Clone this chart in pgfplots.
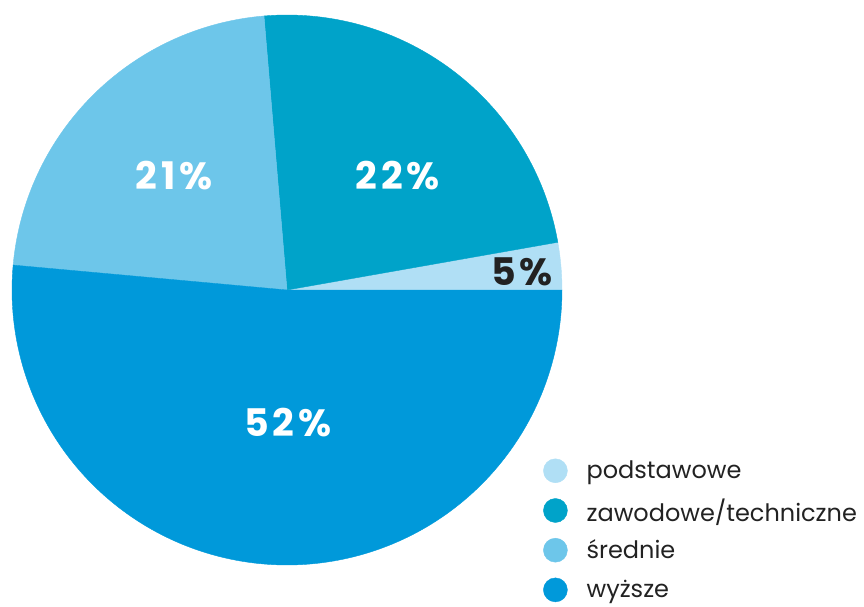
\documentclass[border=0pt]{standalone}
\usepackage{pgfplots}
\pgfplotsset{compat=1.18}
\usepackage{fontspec}
\setmainfont{Poppins}
\newfontfamily\pctfont[LetterSpace=10]{Poppins}
\definecolor{cPod}{HTML}{B0DFF5}
\definecolor{cZaw}{HTML}{00A3C9}
\definecolor{cSre}{HTML}{6DC6EA}
\definecolor{cWyz}{HTML}{0099DA}
\definecolor{cTxt}{HTML}{222222}
\begin{document}
\begin{tikzpicture}
\path[use as bounding box] (0pt,0pt) rectangle (864pt,606pt);
\begin{axis}[
  at={(287pt,316pt)}, anchor=origin,
  x=275pt, y=275pt,
  xmin=-1, xmax=1, ymin=-1, ymax=1,
  hide axis, clip=false,
  legend style={at={(0.96,0.1975)}, anchor=north west, draw=none, fill=none,
    font=\fontsize{24}{26}\selectfont\color{cTxt}, row sep=15.3pt,
    nodes={inner sep=0pt, anchor=west}, column sep=19pt},
  legend cell align=left,
]
% slices: angles in degrees (start:end)
\addplot[forget plot, draw=cPod, line width=0.4pt, fill=cPod, domain=0:10, samples=20] ({cos(x)},{sin(x)}) -- (axis cs:0,0) -- cycle;
\addplot[forget plot, draw=cZaw, line width=0.4pt, fill=cZaw, domain=10:94.8, samples=80] ({cos(x)},{sin(x)}) -- (axis cs:0,0) -- cycle;
\addplot[forget plot, draw=cSre, line width=0.4pt, fill=cSre, domain=94.8:174.8, samples=80] ({cos(x)},{sin(x)}) -- (axis cs:0,0) -- cycle;
\addplot[forget plot, draw=cWyz, line width=0.4pt, fill=cWyz, domain=174.8:360, samples=150] ({cos(x)},{sin(x)}) -- (axis cs:0,0) -- cycle;
\addlegendimage{legend image code/.code={\fill[cPod] (12pt,0pt) circle (12pt);}}
\addlegendentry{podstawowe}
\addlegendimage{legend image code/.code={\fill[cZaw] (12pt,0pt) circle (12pt);}}
\addlegendentry{zawodowe/techniczne}
\addlegendimage{legend image code/.code={\fill[cSre] (12pt,0pt) circle (12pt);}}
\addlegendentry{średnie}
\addlegendimage{legend image code/.code={\fill[cWyz] (12pt,0pt) circle (12pt);}}
\addlegendentry{wyższe}
\node[anchor=base, text=white, font=\fontsize{38}{40}\pctfont\bfseries] at (axis cs:-0.411,0.366) {21\%};
\node[anchor=base, text=white, font=\fontsize{38}{40}\pctfont\bfseries] at (axis cs:0.4036,0.366) {22\%};
\node[anchor=base, text=white, font=\fontsize{38}{40}\pctfont\bfseries] at (axis cs:0.0036,-0.5345) {52\%};
\node[anchor=base, text=cTxt, font=\fontsize{38}{40}\pctfont\bfseries] at (axis cs:0.8545,0.018) {5\%};
\end{axis}
\end{tikzpicture}
\end{document}
